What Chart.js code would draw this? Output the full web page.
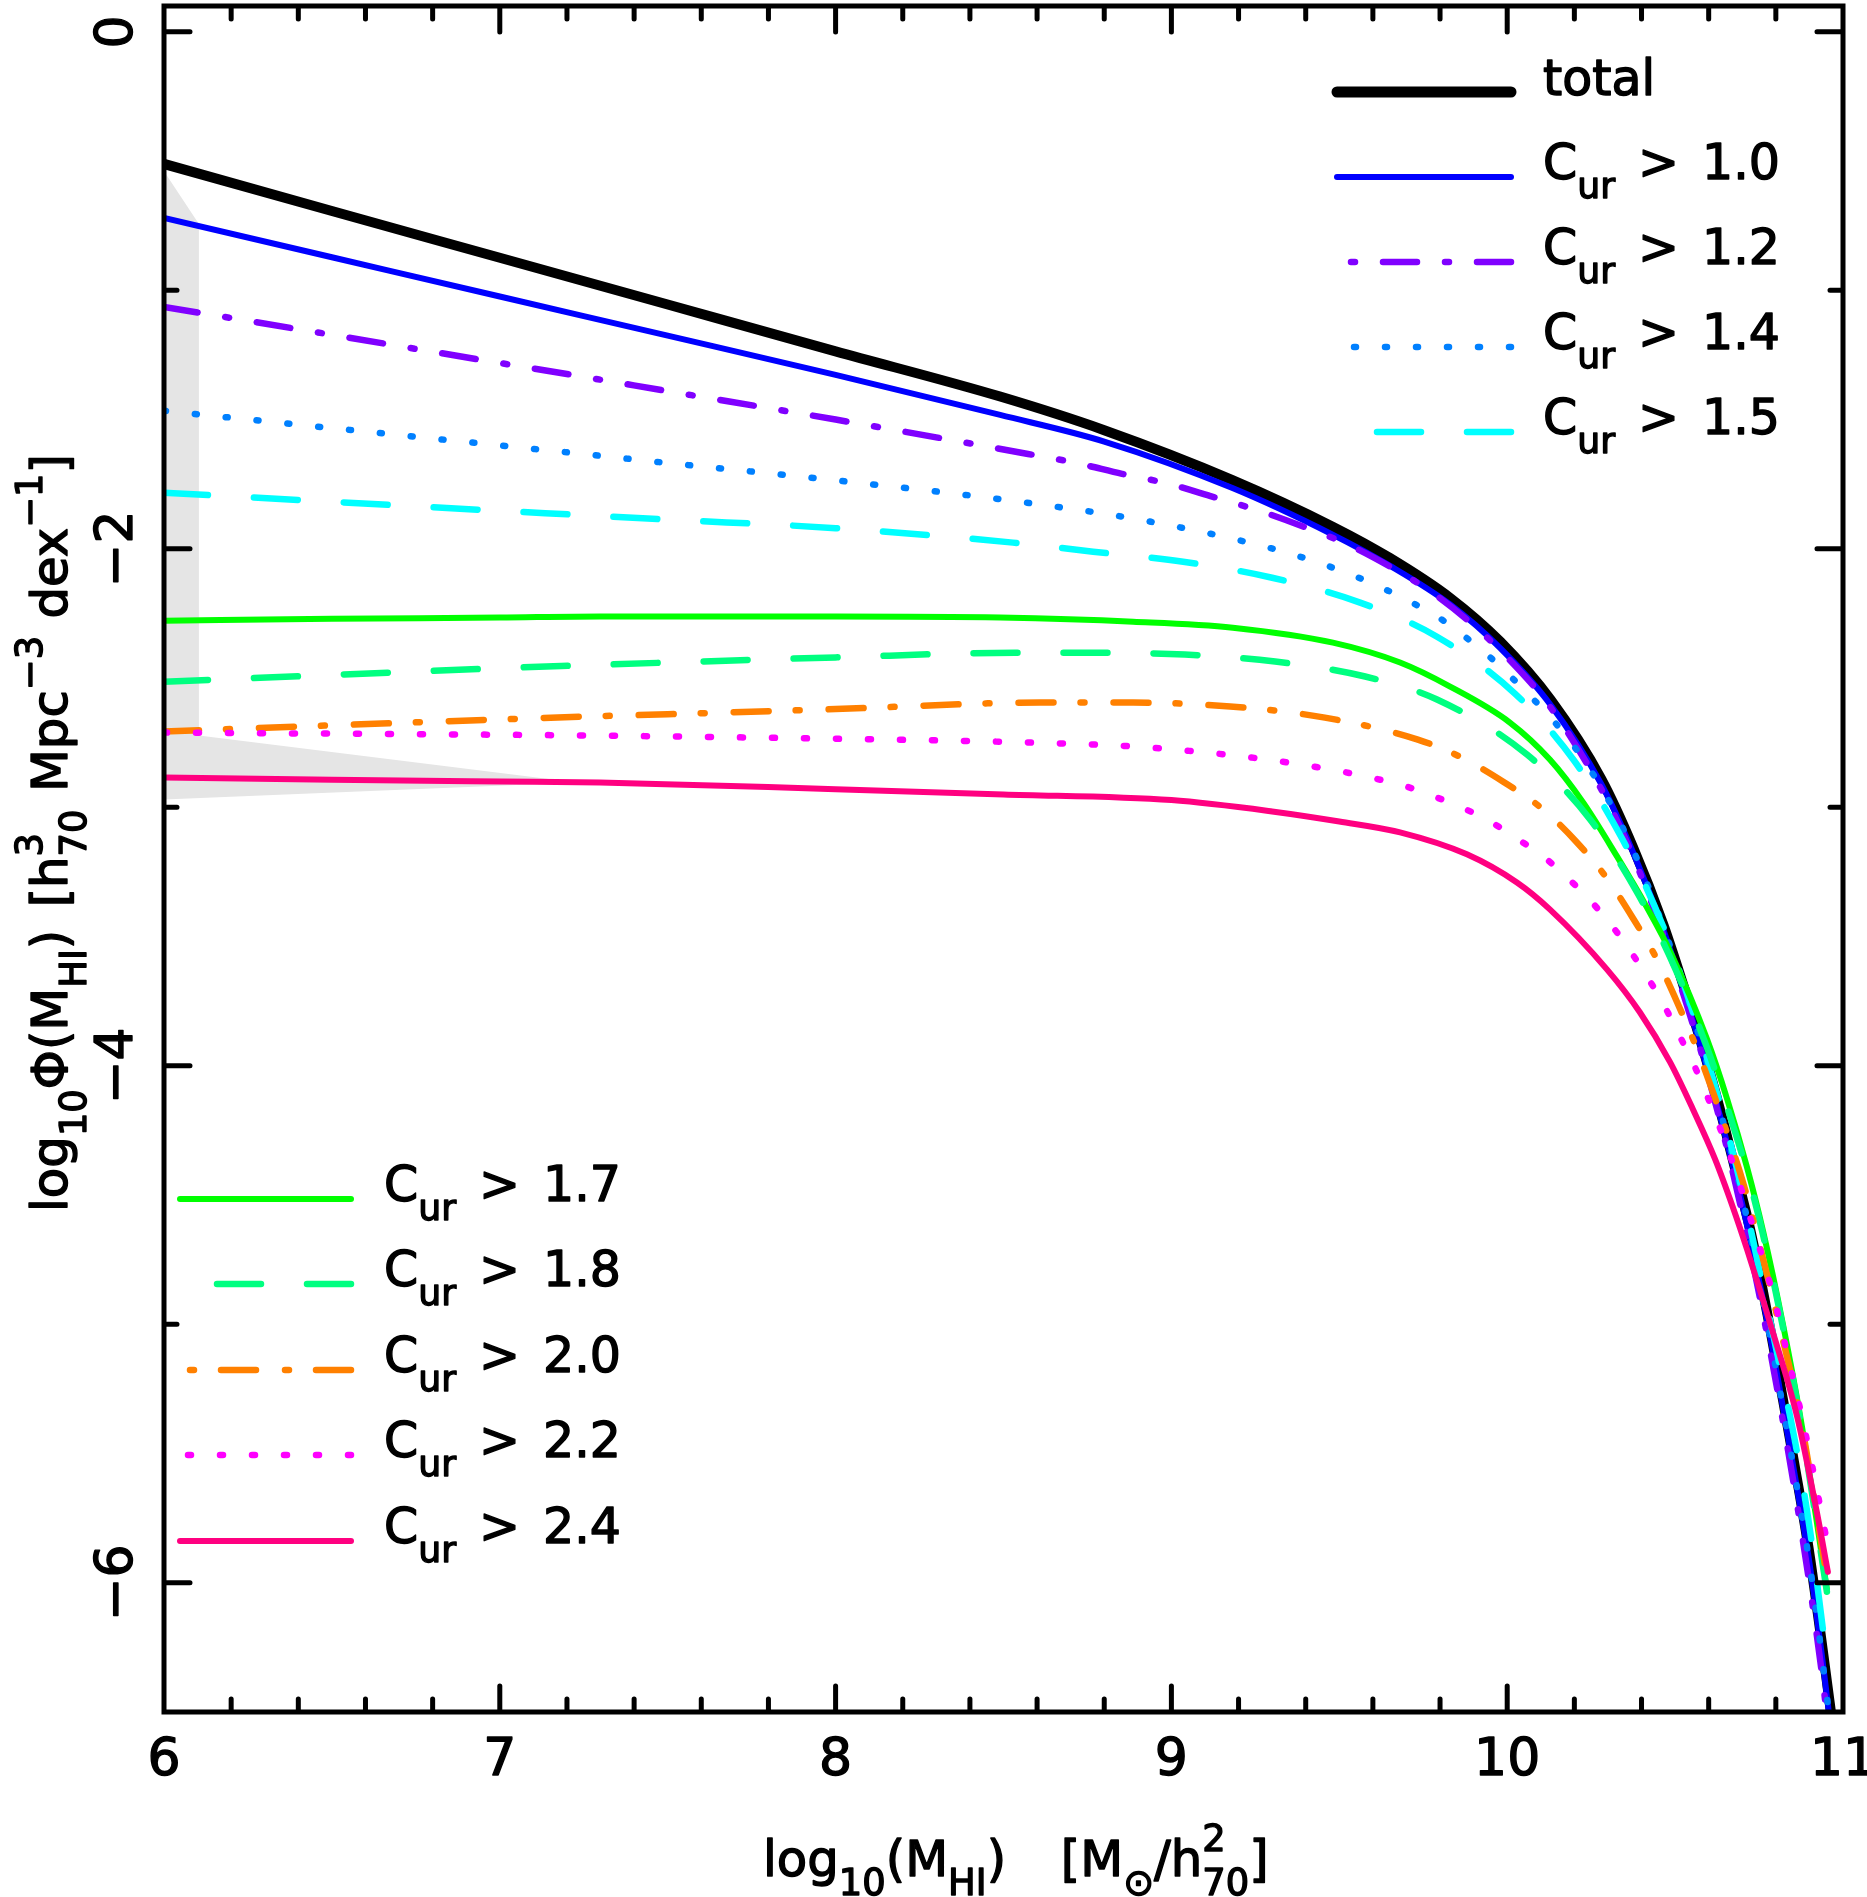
<!DOCTYPE html>
<html><head><meta charset="utf-8">
<script src="https://cdn.jsdelivr.net/npm/chart.js@4.4.1/dist/chart.umd.min.js"></script>
<style>html,body{margin:0;padding:0;background:#fff;} canvas{display:block;}</style>
</head><body>
<canvas id="c" width="1867" height="1897" style="width:1867px;height:1897px"></canvas>
<script>
// ---------------- data ----------------
const total = [[6.00,-0.511],[6.50,-0.693],[7.00,-0.874],[7.50,-1.055],[8.00,-1.236],[8.49,-1.411],[8.80,-1.541],[9.18,-1.733],[9.48,-1.914],[9.65,-2.035],[9.83,-2.190],[9.98,-2.360],[10.13,-2.585],[10.28,-2.890],[10.375,-3.155],[10.464,-3.450],[10.535,-3.731],[10.595,-3.987],[10.649,-4.245],[10.699,-4.504],[10.723,-4.630],[10.774,-4.955],[10.821,-5.290],[10.872,-5.665],[10.902,-5.905],[10.961,-6.470],[10.968,-6.540]];
const cur10 = [[6.00,-0.720],[6.50,-0.872],[7.00,-1.024],[7.50,-1.175],[8.00,-1.327],[8.49,-1.482],[8.80,-1.585],[9.18,-1.764],[9.48,-1.945],[9.65,-2.065],[9.83,-2.215],[9.98,-2.385],[10.13,-2.605],[10.28,-2.910],[10.375,-3.175],[10.464,-3.470],[10.535,-3.750],[10.595,-4.010],[10.649,-4.270],[10.699,-4.530],[10.774,-4.985],[10.821,-5.320],[10.872,-5.700],[10.902,-5.940],[10.955,-6.470],[10.962,-6.550]];
const cur12 = [[6.00,-1.064],[6.50,-1.172],[7.00,-1.281],[7.233,-1.331],[7.50,-1.390],[8.00,-1.500],[8.573,-1.633],[8.713,-1.667],[8.853,-1.710],[8.99,-1.748],[9.124,-1.799],[9.262,-1.853],[9.395,-1.915],[9.526,-1.984],[9.651,-2.069],[9.773,-2.166],[9.88,-2.274],[10.00,-2.420],[10.127,-2.610],[10.276,-2.920],[10.375,-3.190],[10.464,-3.490],[10.535,-3.765],[10.595,-4.025],[10.649,-4.290],[10.699,-4.565],[10.774,-5.040],[10.851,-5.600],[10.902,-6.020],[10.94,-6.380],[10.955,-6.550]];
const cur14 = [[6.00,-1.466],[6.50,-1.533],[7.00,-1.600],[7.239,-1.632],[7.50,-1.668],[8.00,-1.735],[8.549,-1.818],[8.921,-1.891],[9.291,-1.996],[9.472,-2.069],[9.645,-2.162],[9.815,-2.282],[9.889,-2.355],[9.961,-2.433],[10.029,-2.518],[10.095,-2.605],[10.154,-2.690],[10.208,-2.780],[10.262,-2.885],[10.309,-2.990],[10.39,-3.210],[10.464,-3.460],[10.535,-3.730],[10.595,-3.990],[10.649,-4.245],[10.699,-4.500],[10.774,-4.990],[10.821,-5.320],[10.872,-5.700],[10.902,-5.940],[10.952,-6.440],[10.962,-6.550]];
const cur15 = [[6.00,-1.783],[6.50,-1.818],[7.00,-1.853],[7.221,-1.868],[7.50,-1.887],[8.00,-1.920],[8.528,-1.976],[8.767,-2.011],[9.035,-2.050],[9.30,-2.112],[9.562,-2.208],[9.791,-2.340],[10.023,-2.560],[10.199,-2.819],[10.342,-3.121],[10.464,-3.460],[10.535,-3.720],[10.595,-3.970],[10.649,-4.220],[10.699,-4.480],[10.774,-4.930],[10.821,-5.220],[10.863,-5.494],[10.902,-5.800],[10.95,-6.280]];
const cur17 = [[6.00,-2.278],[6.50,-2.271],[7.00,-2.266],[7.298,-2.262],[8.00,-2.262],[8.49,-2.266],[8.886,-2.282],[9.183,-2.305],[9.481,-2.363],[9.681,-2.440],[9.83,-2.533],[10.008,-2.672],[10.127,-2.815],[10.226,-2.981],[10.327,-3.190],[10.416,-3.387],[10.485,-3.557],[10.595,-3.897],[10.655,-4.129],[10.714,-4.392],[10.762,-4.640],[10.821,-4.999],[10.878,-5.397],[10.952,-6.024]];
const cur18 = [[6.00,-2.514],[6.50,-2.488],[7.00,-2.462],[7.221,-2.452],[7.50,-2.440],[8.00,-2.420],[8.534,-2.402],[8.767,-2.402],[9.04,-2.409],[9.309,-2.436],[9.577,-2.494],[9.791,-2.583],[10.059,-2.796],[10.247,-3.047],[10.392,-3.341],[10.499,-3.620],[10.595,-3.930],[10.655,-4.160],[10.714,-4.410],[10.762,-4.655],[10.821,-5.010],[10.878,-5.410],[10.952,-6.035]];
const cur20 = [[6.00,-2.707],[6.50,-2.683],[7.00,-2.660],[7.251,-2.649],[7.50,-2.640],[8.00,-2.620],[8.609,-2.595],[8.886,-2.595],[9.175,-2.610],[9.457,-2.653],[9.734,-2.738],[9.865,-2.808],[9.987,-2.900],[10.104,-3.005],[10.205,-3.132],[10.297,-3.275],[10.375,-3.430],[10.446,-3.588],[10.506,-3.754],[10.562,-3.925],[10.613,-4.103],[10.658,-4.273],[10.702,-4.450],[10.738,-4.624],[10.806,-4.980],[10.872,-5.355],[10.952,-5.977]];
const cur22 = [[6.00,-2.711],[6.50,-2.715],[7.245,-2.722],[8.00,-2.735],[8.564,-2.749],[8.936,-2.769],[9.383,-2.834],[9.69,-2.916],[9.776,-2.955],[9.865,-3.001],[9.949,-3.055],[10.029,-3.121],[10.107,-3.190],[10.178,-3.271],[10.244,-3.356],[10.306,-3.449],[10.363,-3.549],[10.416,-3.654],[10.464,-3.758],[10.506,-3.866],[10.55,-3.979],[10.586,-4.087],[10.655,-4.315],[10.714,-4.547],[10.795,-4.903],[10.839,-5.142],[10.881,-5.378],[10.92,-5.625],[10.952,-5.840]];
const cur24 = [[6.00,-2.885],[6.50,-2.893],[7.00,-2.900],[7.298,-2.904],[8.00,-2.930],[8.50,-2.950],[9.00,-2.972],[9.30,-3.016],[9.50,-3.055],[9.681,-3.097],[9.88,-3.182],[10.029,-3.291],[10.127,-3.395],[10.297,-3.627],[10.395,-3.793],[10.485,-3.986],[10.553,-4.168],[10.619,-4.361],[10.672,-4.547],[10.714,-4.709],[10.791,-5.030],[10.863,-5.355],[10.922,-5.726],[10.955,-5.958]];
// grey uncertainty region outline
const band = [[6.00,-0.539],[6.104,-0.743],[6.104,-2.722],[7.23,-2.904],[6.00,-2.970],[6.00,-0.539]];

const seriesNames = ['total','1.0','1.2','1.4','1.5','1.7','1.8','2.0','2.2','2.4'];
const xMajorTicks = [6,7,8,9,10,11];
const xTickLabels = ['6','7','8','9','10','11'];
const xMinorTicks = [6.2,6.4,6.6,6.8,7.2,7.4,7.6,7.8,8.2,8.4,8.6,8.8,9.2,9.4,9.6,9.8,10.2,10.4,10.6,10.8];
const yMajorTicks = [0,-2,-4,-6];
const yTickLabels = ['0','\u22122','\u22124','\u22126'];
const yMinorTicks = [-1,-3,-5];

// ---------------- styles ----------------
const FF = '"DejaVu Sans", "Liberation Sans", sans-serif';
const seriesData = [total,cur10,cur12,cur14,cur15,cur17,cur18,cur20,cur22,cur24];
const styles = [
  {color:'#000000', width:10, dash:[]},
  {color:'#0000ff', width:6, dash:[]},
  {color:'#8000ff', width:6.5, dash:[34,28,4,28]},
  {color:'#0080ff', width:6.5, dash:[2,29]},
  {color:'#00ffff', width:6.5, dash:[44,46]},
  {color:'#00ff00', width:6, dash:[]},
  {color:'#00ff80', width:6.5, dash:[44,46]},
  {color:'#ff8000', width:6.5, dash:[35,27,4,29]},
  {color:'#ff00ff', width:6.5, dash:[3,29]},
  {color:'#ff0080', width:6, dash:[]}
];

const toPts = arr => arr.map(p => ({x:p[0], y:p[1]}));
const datasets = [{
  data: toPts(band), showLine:true, fill:'shape', backgroundColor:'#e5e5e5',
  borderColor:'rgba(0,0,0,0)', borderWidth:0, tension:0, order:50, pointRadius:0
}];
seriesData.forEach((d,i) => {
  datasets.push({
    label: seriesNames[i], data: toPts(d), showLine:true, fill:false,
    borderColor: styles[i].color, borderWidth: styles[i].width, borderDash: styles[i].dash,
    borderCapStyle:'round', borderJoinStyle:'round', cubicInterpolationMode:'monotone',
    pointRadius:0, order: 20 - i
  });
});

// ---------------- rich text helper ----------------
function putText(ctx, t, x, y) {
  ctx.fillText(t, x, y);
  ctx.strokeText(t, x, y);
}
function drawRich(ctx, segs, x, y, size, doDraw) {
  let cx = x;
  const subS = size*0.74, subOff = size*0.38, supOff = size*0.50;
  for (const s of segs) {
    if (s.k === 'n') {
      ctx.font = `${size}px ${FF}`;
      if (doDraw) putText(ctx, s.t, cx, y);
      cx += ctx.measureText(s.t).width;
    } else if (s.k === 'sub' || s.k === 'sup') {
      ctx.font = `${subS}px ${FF}`;
      if (doDraw) putText(ctx, s.t, cx, s.k === 'sub' ? y + subOff : y - supOff);
      cx += ctx.measureText(s.t).width;
    } else if (s.k === 'ss') {
      ctx.font = `${subS}px ${FF}`;
      const w1 = ctx.measureText(s.a).width, w2 = ctx.measureText(s.b).width;
      if (doDraw) { putText(ctx, s.a, cx, y - supOff); putText(ctx, s.b, cx, y + subOff); }
      cx += Math.max(w1, w2);
    } else if (s.k === 'sp') {
      cx += s.w*size;
    }
  }
  return cx - x;
}

const yTitle = [{k:'n',t:'log'},{k:'sub',t:'10'},{k:'n',t:'\u03A6(M'},{k:'sub',t:'HI'},{k:'n',t:')'},{k:'sp',w:0.45},
  {k:'n',t:'[h'},{k:'ss',a:'3',b:'70'},{k:'sp',w:0.35},{k:'n',t:'Mpc'},{k:'sup',t:'\u22123'},{k:'sp',w:0.35},{k:'n',t:'dex'},{k:'sup',t:'\u22121'},{k:'n',t:']'}];
const xTitle = [{k:'n',t:'log'},{k:'sub',t:'10'},{k:'n',t:'(M'},{k:'sub',t:'HI'},{k:'n',t:')'},{k:'sp',w:1.1},
  {k:'n',t:'[M'},{k:'sub',t:'\u2299'},{k:'n',t:'/h'},{k:'ss',a:'2',b:'70'},{k:'n',t:']'}];

const legendTR = {idx:[0,1,2,3,4], x0:1337, x1:1511, tx:1543, ys:[92,177,262,347,432]};
const legendBL = {idx:[5,6,7,8,9], x0:180, x1:351, tx:384, ys:[1199,1284,1370,1455,1541]};

const decor = {
  id:'decor',
  afterDatasetsDraw(chart) {
    const {ctx, chartArea:a, scales:{x, y}} = chart;
    ctx.save();
    ctx.strokeStyle = '#000'; ctx.lineCap = 'round'; ctx.lineWidth = 5;
    ctx.beginPath();
    ctx.rect(a.left, a.top, a.right - a.left, a.bottom - a.top);
    const seg = (x1,y1,x2,y2) => { ctx.moveTo(x1,y1); ctx.lineTo(x2,y2); };
    const MAJ = 26, MIN = 13;
    xMajorTicks.forEach(v => { const p = x.getPixelForValue(v); if (v===6||v===11) return;
      seg(p, a.bottom, p, a.bottom - MAJ); seg(p, a.top, p, a.top + MAJ); });
    xMinorTicks.forEach(v => { const p = x.getPixelForValue(v);
      seg(p, a.bottom, p, a.bottom - MIN); seg(p, a.top, p, a.top + MIN); });
    yMajorTicks.forEach(v => { const p = y.getPixelForValue(v);
      seg(a.left, p, a.left + MAJ, p); seg(a.right, p, a.right - MAJ, p); });
    yMinorTicks.forEach(v => { const p = y.getPixelForValue(v);
      seg(a.left, p, a.left + MIN, p); seg(a.right, p, a.right - MIN, p); });
    ctx.stroke();

    // text style: filled + thin stroke to mimic the heavier plot font
    ctx.fillStyle = '#000'; ctx.strokeStyle = '#000'; ctx.lineWidth = 1.4; ctx.lineJoin = 'round';
    ctx.font = `52px ${FF}`; ctx.textAlign = 'center'; ctx.textBaseline = 'alphabetic';
    xMajorTicks.forEach((v,i) => putText(ctx, xTickLabels[i], x.getPixelForValue(v), 1775));
    yMajorTicks.forEach((v,i) => {
      ctx.save(); ctx.translate(132, y.getPixelForValue(v)); ctx.rotate(-Math.PI/2);
      putText(ctx, yTickLabels[i], 0, 0); ctx.restore();
    });

    // axis titles
    ctx.textAlign = 'left';
    let ts = 50;
    const wY = drawRich(ctx, yTitle, 0, 0, ts, false);
    ts = ts * 758 / wY;
    const wY2 = drawRich(ctx, yTitle, 0, 0, ts, false);
    ctx.save(); ctx.translate(67, 833); ctx.rotate(-Math.PI/2);
    drawRich(ctx, yTitle, -wY2/2, 0, ts, true); ctx.restore();
    drawRich(ctx, xTitle, 763, 1876, ts, true);

    // legends
    const drawLegend = (L) => {
      L.idx.forEach((si, k) => {
        const st = styles[si], yy = L.ys[k];
        ctx.save();
        ctx.strokeStyle = st.color; ctx.lineWidth = si === 0 ? 11 : st.width;
        ctx.lineCap = 'round'; ctx.setLineDash(st.dash);
        ctx.beginPath(); ctx.moveTo(L.x1, yy); ctx.lineTo(L.x0, yy); ctx.stroke();
        ctx.restore();
        ctx.textAlign = 'left';
        if (si === 0) {
          ctx.font = `49px ${FF}`; putText(ctx, seriesNames[0], L.tx, yy + 3);
        } else {
          drawRich(ctx, [{k:'n',t:'C'},{k:'sub',t:'ur'}], L.tx, yy + 2, 49, true);
          ctx.font = `49px ${FF}`;
          putText(ctx, '>', L.tx + 95, yy + 2);
          putText(ctx, seriesNames[si], L.tx + 159, yy + 2);
        }
      });
    };
    drawLegend(legendTR); drawLegend(legendBL);
    ctx.restore();
  }
};

new Chart(document.getElementById('c'), {
  type:'scatter',
  data:{datasets},
  options:{
    responsive:false, animation:false, devicePixelRatio:1,
    layout:{padding:{left:164, right:24, top:6, bottom:185}},
    plugins:{legend:{display:false}, tooltip:{enabled:false}},
    scales:{
      x:{type:'linear', min:6, max:11, display:false},
      y:{type:'linear', min:-6.5, max:0.1, display:false}
    }
  },
  plugins:[decor]
});
</script></body></html>
